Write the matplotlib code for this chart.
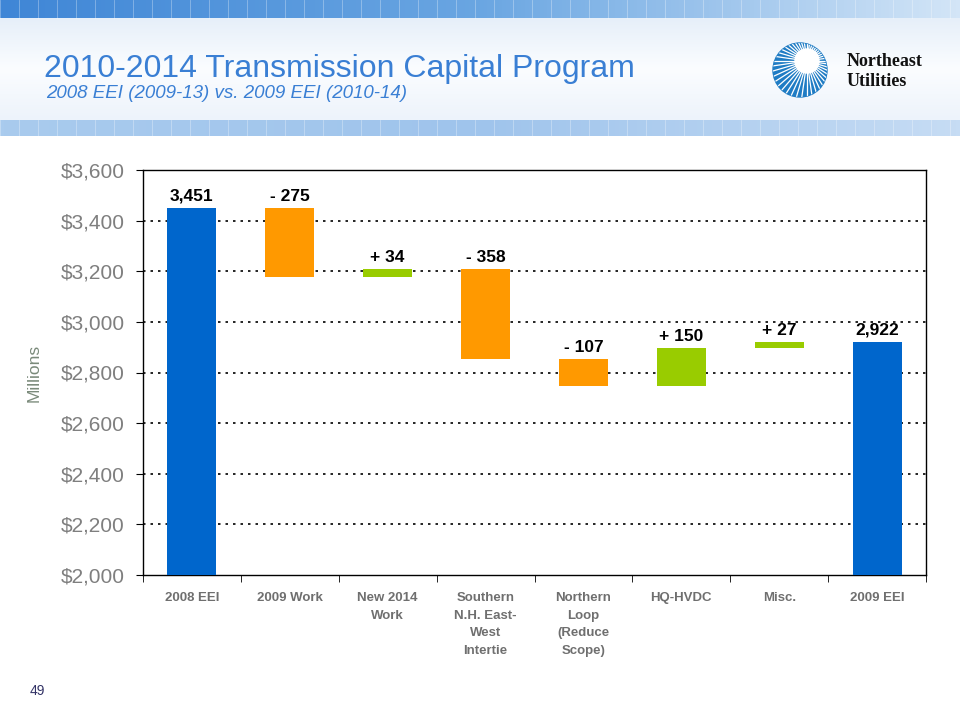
import numpy as np
import matplotlib.pyplot as plt
from matplotlib.colors import LinearSegmentedColormap
from matplotlib.patches import Circle

plt.rcParams['font.family'] = ['Liberation Sans', 'DejaVu Sans']

# chart data
categories = ['2008 EEI', '2009 Work', 'New 2014\nWork', 'Southern\nN.H. East-\nWest\nIntertie',
              'Northern\nLoop\n(Reduce\nScope)', 'HQ-HVDC', 'Misc.', '2009 EEI']
start_total = 3451
deltas = [-275, 34, -358, -107, 150, 27]
end_total = 2922
yticks = [2000, 2200, 2400, 2600, 2800, 3000, 3200, 3400, 3600]

BLUE = '#0066CC'
ORANGE = '#FF9900'
GREEN = '#99CC00'

fig = plt.figure(figsize=(9.6, 7.2), dpi=100)

# ---- slide background / header ----
bg = fig.add_axes([0, 0, 1, 1], zorder=-5)
bg.set_xlim(0, 960)
bg.set_ylim(720, 0)
bg.axis('off')

grad = np.linspace(0, 1, 256)
band = np.vstack([grad, grad])
bg.imshow(band, extent=[0, 960, 18, 0], aspect='auto', zorder=0,
          cmap=LinearSegmentedColormap.from_list('hdr', ['#3f86d6', '#6aa6e2', '#d3e5f7']))
bg.imshow(band.T, extent=[0, 960, 120, 18], aspect='auto', zorder=0,
          cmap=LinearSegmentedColormap.from_list('pnl', ['#e6eff9', '#fbfdff', '#edf3fb']))
bg.imshow(band, extent=[0, 960, 136, 120], aspect='auto', zorder=0,
          cmap=LinearSegmentedColormap.from_list('low', ['#a9cbee', '#9fc4ec', '#c6dcf4']))
for xs in range(0, 960, 19):
    bg.plot([xs, xs], [0, 18], color='white', lw=0.6, alpha=0.35, zorder=1)
    bg.plot([xs, xs], [120, 136], color='white', lw=0.6, alpha=0.35, zorder=1)

bg.text(44, 77, '2010-2014 Transmission Capital Program', fontsize=23,
        color='#3a7fd4', ha='left', va='baseline')
bg.text(46, 98, '2008 EEI (2009-13) vs. 2009 EEI (2010-14)', fontsize=13.5,
        color='#3a7fd4', style='italic', ha='left', va='baseline')

# logo
cx, cy, r = 800, 70, 27
disc = Circle((cx, cy), r, color='#1f7cc4', zorder=2)
bg.add_patch(disc)
ix, iy = 807, 61
for ang in np.linspace(0, 2 * np.pi, 44, endpoint=False):
    ln, = bg.plot([ix + 10 * np.cos(ang), ix + 70 * np.cos(ang)],
                  [iy + 10 * np.sin(ang), iy + 70 * np.sin(ang)],
                  color='white', lw=0.9, zorder=3)
    ln.set_clip_path(disc)
bg.add_patch(Circle((ix, iy), 12, color='white', zorder=5))
bg.text(847, 62, 'Northeast', fontsize=13, fontweight='bold', family='Liberation Serif',
        color='#111111', va='center')
bg.text(847, 81, 'Utilities', fontsize=13, fontweight='bold', family='Liberation Serif',
        color='#111111', va='center')

bg.text(30, 695, '49', fontsize=10, color='#333366', ha='left', va='baseline')

# ---- waterfall chart ----
ax = fig.add_axes([143 / 960, 1 - 575 / 720, 783 / 960, 405 / 720])
x = np.arange(len(categories))

levels = np.concatenate([[start_total], start_total + np.cumsum(deltas)])
bottoms = [0]
heights = [start_total]
colors = [BLUE]
for i, d in enumerate(deltas):
    bottoms.append(min(levels[i], levels[i + 1]))
    heights.append(abs(d))
    colors.append(GREEN if d > 0 else ORANGE)
bottoms.append(0)
heights.append(end_total)
colors.append(BLUE)

ax.bar(x, heights, bottom=bottoms, width=0.5, color=colors, zorder=3)

labels = ['{:,}'.format(start_total)] + \
         [('+ ' if d > 0 else '- ') + str(abs(d)) for d in deltas] + \
         ['{:,}'.format(end_total)]
label_y = [start_total] + [max(levels[i], levels[i + 1]) for i in range(len(deltas))] + [end_total]
for xi, lab, ly in zip(x, labels, label_y):
    ax.text(xi, ly + 16, lab, ha='center', va='bottom', fontsize=12.5,
            fontweight='bold', color='black', zorder=4)

ax.set_xlim(-0.5, len(categories) - 0.5)
ax.set_ylim(2000, 3600)
ax.set_yticks(yticks)
ax.set_yticklabels(['${:,}'.format(v) for v in yticks], fontsize=15, color='#7f7f7f')
for v in yticks[1:-1]:
    ax.axhline(v, color='black', lw=1.2, ls=(0, (1.5, 3)), zorder=1)

ax.set_xticks(x)
ax.set_xticklabels(categories, fontsize=9.5, fontweight='bold', color='#6f6f6f',
                   linespacing=1.65, va='top')
ax.tick_params(axis='x', which='major', length=0, pad=12)
ax.set_xticks(np.arange(-0.5, len(categories)), minor=True)
ax.tick_params(axis='x', which='minor', length=5, direction='out', color='black')
ax.tick_params(axis='y', length=5, direction='out', color='black', pad=8)

for s in ax.spines.values():
    s.set_color('black')
    s.set_linewidth(1.0)

ax.set_ylabel('Millions', fontsize=12.5, color='#7a8a7a', labelpad=14)

fig.savefig('out.png', dpi=100, facecolor='white')
